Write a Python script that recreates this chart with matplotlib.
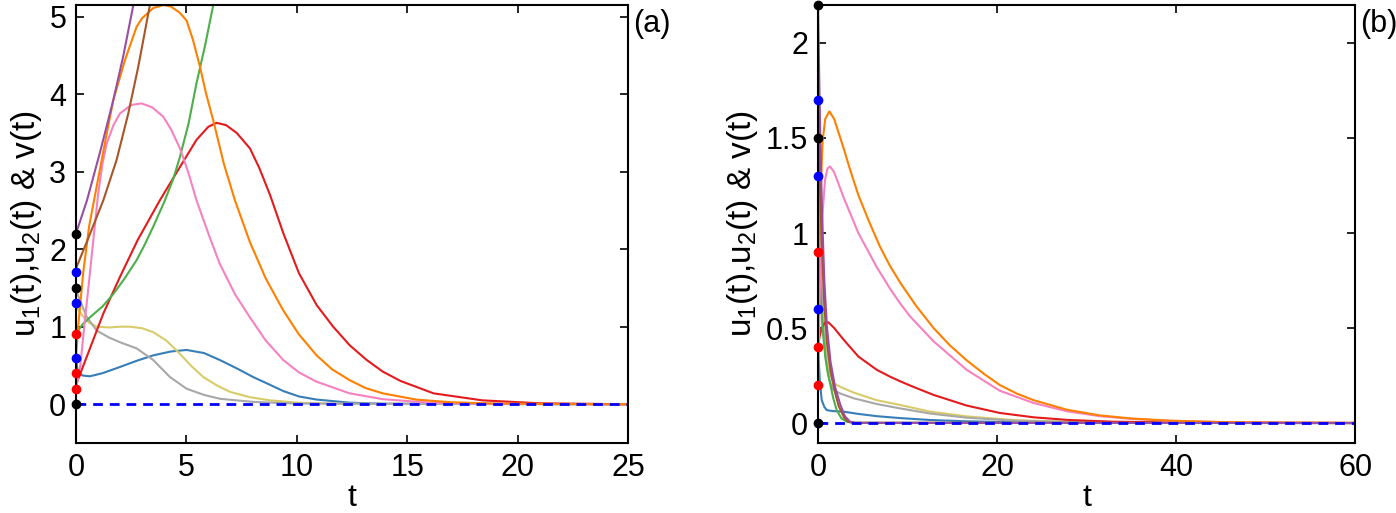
import matplotlib
matplotlib.use('Agg')
import matplotlib.pyplot as plt

plt.rcParams['font.family'] = ['Liberation Sans', 'DejaVu Sans']
plt.rcParams['mathtext.fontset'] = 'custom'
plt.rcParams['mathtext.rm'] = 'Liberation Sans'
plt.rcParams['mathtext.it'] = 'Liberation Sans'

colores = {
    'azul': '#377eb8', 'naranja': '#ff7f00', 'verde': '#4daf4a', 'rojo': '#e41a1c',
    'morado': '#984ea3', 'marron': '#a65628', 'rosa': '#f781bf', 'gris': '#a8a8a8',
    'amarillo': '#d8cb6a',
}

# ---- panel (a) ----
t_morado_a = [0, 0.5, 1.09, 1.69, 2.15, 2.6, 3.0]
y_morado_a = [2.2, 2.63, 3.25, 3.92, 4.5, 5.15, 5.7]
t_marron_a = [0, 0.6, 1.24, 1.84, 2.37, 2.82, 3.35, 3.6]
y_marron_a = [1.75, 2.17, 2.63, 3.15, 3.75, 4.35, 5.15, 5.6]
t_naranja_a = [0, 0.1, 0.33, 0.6, 0.9, 1.3, 1.69, 2.22, 2.75, 3.0, 3.5, 3.95, 4.3, 4.7, 5.01,
               5.3, 5.62, 5.9, 6.22, 6.7, 7.2, 7.88, 8.6, 9.39, 10.1, 10.9, 11.6, 12.4, 13.1,
               13.9, 15.4, 17, 19, 22, 25]
y_naranja_a = [0.6, 1.0, 1.7, 2.3, 2.75, 3.35, 3.92, 4.44, 4.87, 4.98, 5.11, 5.15, 5.13, 5.05, 4.95,
               4.7, 4.35, 4.0, 3.66, 3.1, 2.63, 2.09, 1.62, 1.21, 0.9, 0.63, 0.45, 0.31, 0.21,
               0.14, 0.06, 0.025, 0.008, 0.002, 0.0]
t_rosa_a = [0, 0.2, 0.41, 0.6, 0.78, 1.0, 1.2, 1.39, 1.7, 1.99, 2.5, 2.97, 3.45, 3.95, 4.3, 4.71,
            5.1, 5.46, 6.0, 6.5, 7.2, 7.88, 8.6, 9.39, 10.1, 10.9, 12.4, 13.9, 16, 19, 25]
y_rosa_a = [0.2, 0.5, 1.1, 1.6, 2.1, 2.7, 3.1, 3.36, 3.6, 3.75, 3.86, 3.88, 3.83, 3.71, 3.55, 3.3,
            2.98, 2.63, 2.2, 1.82, 1.42, 1.12, 0.82, 0.57, 0.41, 0.29, 0.14, 0.065, 0.02, 0.005, 0.0]
t_rojo_a = [0, 0.5, 1.24, 1.99, 2.8, 3.8, 4.71, 5.46, 6.0, 6.37, 6.8, 7.28, 7.88, 8.3, 8.79, 9.4,
            10.1, 10.9, 11.65, 12.4, 13.17, 13.9, 14.7, 16.2, 18.4, 21, 25]
y_rojo_a = [0.25, 0.62, 1.17, 1.64, 2.12, 2.63, 3.06, 3.41, 3.58, 3.63, 3.6, 3.5, 3.3, 3.05, 2.7, 2.2,
            1.69, 1.28, 1.0, 0.76, 0.57, 0.42, 0.3, 0.14, 0.05, 0.012, 0.0]
t_verde_a = [0, 0.1, 0.3, 0.63, 1.2, 1.69, 2.2, 2.75, 3.1, 3.5, 4.03, 4.4, 4.71, 5.1, 5.46, 5.85,
             6.22, 6.5]
y_verde_a = [0.9, 0.95, 1.03, 1.12, 1.26, 1.42, 1.62, 1.86, 2.05, 2.29, 2.63, 2.9, 3.19, 3.62, 4.14,
             4.63, 5.15, 5.6]
t_azul_a = [0, 0.08, 0.3, 0.63, 1.2, 1.99, 2.75, 3.5, 4.3, 5.01, 5.8, 6.52, 7.3, 8.03, 8.79,
            9.39, 10.1, 10.9, 12.4, 14, 25]
y_azul_a = [0.6, 0.42, 0.37, 0.36, 0.4, 0.48, 0.56, 0.63, 0.68, 0.70, 0.66, 0.57, 0.46, 0.35, 0.25,
            0.17, 0.1, 0.06, 0.02, 0.006, 0.0]
t_amarillo_a = [0, 0.1, 0.33, 0.6, 0.94, 1.5, 2.0, 2.45, 3.0, 3.5, 4.1, 4.71, 5.2, 5.77, 6.4,
                6.97, 7.88, 8.79, 10, 12, 25]
y_amarillo_a = [1.3, 1.22, 1.13, 1.05, 1.0, 0.99, 1.0, 1.0, 0.98, 0.93, 0.82, 0.65, 0.5, 0.35, 0.24,
                0.16, 0.09, 0.05, 0.02, 0.005, 0.0]
t_gris_a = [0, 0.06, 0.48, 0.94, 1.5, 1.99, 2.75, 3.5, 4.26, 5.01, 5.8, 6.52, 8.03, 10, 25]
y_gris_a = [1.5, 1.43, 1.13, 0.95, 0.86, 0.80, 0.72, 0.57, 0.35, 0.2, 0.12, 0.07, 0.03, 0.008, 0.0]

# ---- panel (b) ----
t_naranja_b = [0, 0.2, 0.5, 0.8, 1.26, 1.8, 2.83, 3.6, 4.5, 5.7, 6.9, 8, 9.16, 10.9, 12.9, 14.7,
               16.6, 18.5, 20.3, 22.2, 24.1, 27.8, 31.5, 35, 39, 45, 52, 60]
y_naranja_b = [0.6, 1.1, 1.48, 1.6, 1.64, 1.6, 1.45, 1.33, 1.2, 1.06, 0.93, 0.83, 0.74, 0.62, 0.5, 0.41,
               0.33, 0.26, 0.2, 0.155, 0.12, 0.07, 0.04, 0.024, 0.013, 0.005, 0.002, 0.001]
t_rosa_b = [0, 0.2, 0.5, 0.78, 1.05, 1.34, 1.8, 2.83, 4.5, 6.56, 8, 9.16, 10.3, 12.9, 16.6, 20.3,
            24.1, 27.8, 31.5, 35.2, 40, 48, 60]
y_rosa_b = [0.2, 0.7, 1.1, 1.28, 1.34, 1.35, 1.32, 1.19, 1.0, 0.82, 0.71, 0.63, 0.56, 0.43, 0.28, 0.17,
            0.105, 0.062, 0.036, 0.021, 0.01, 0.003, 0.0005]
t_rojo_b = [0, 0.15, 0.4, 0.8, 1.15, 1.8, 2.83, 4.5, 6.56, 8, 9.16, 10.3, 12.9, 16.6, 20.3, 24.1,
            28, 33, 40, 50, 60]
y_rojo_b = [0.4, 0.45, 0.5, 0.53, 0.53, 0.5, 0.44, 0.35, 0.28, 0.245, 0.22, 0.197, 0.148, 0.092, 0.053,
            0.03, 0.016, 0.007, 0.003, 0.001, 0.0]
t_amarillo_b = [0, 0.2, 0.5, 0.9, 1.3, 1.71, 2.5, 4, 6.56, 9.16, 12.5, 16.6, 22, 30, 40, 60]
y_amarillo_b = [1.3, 0.95, 0.6, 0.38, 0.27, 0.21, 0.19, 0.16, 0.12, 0.095, 0.06, 0.035, 0.015, 0.004,
                0.001, 0.0]
t_gris_b = [0, 0.2, 0.5, 0.9, 1.3, 1.71, 2.5, 4, 6.56, 9.16, 12.5, 16.6, 22, 30, 40, 60]
y_gris_b = [1.5, 1.0, 0.55, 0.32, 0.22, 0.174, 0.155, 0.13, 0.10, 0.077, 0.05, 0.028, 0.012, 0.003,
            0.001, 0.0]
t_azul_b = [0, 0.2, 0.41, 0.7, 0.97, 1.6, 2.83, 4.5, 6.56, 9.16, 12.5, 16.6, 22, 30, 60]
y_azul_b = [0.4, 0.22, 0.12, 0.085, 0.068, 0.063, 0.06, 0.048, 0.036, 0.026, 0.016, 0.009, 0.004,
            0.001, 0.0]
t_verde_b = [0, 0.2, 0.5, 0.8, 1.1, 1.34, 1.7, 2.08, 2.6, 3.2, 4, 60]
y_verde_b = [0.9, 0.75, 0.5, 0.35, 0.26, 0.21, 0.13, 0.068, 0.025, 0.007, 0.001, 0.0]
t_marron_b = [0, 0.1, 0.25, 0.45, 0.7, 1.0, 1.4, 1.9, 2.3, 2.9, 3.4, 4, 60]
y_marron_b = [1.75, 1.5, 1.2, 0.9, 0.62, 0.42, 0.27, 0.16, 0.09, 0.03, 0.006, 0.001, 0.0]
t_morado_b = [0, 0.1, 0.25, 0.45, 0.7, 1.0, 1.4, 1.9, 2.46, 3.0, 3.58, 4.2, 60]
y_morado_b = [2.2, 1.9, 1.5, 1.1, 0.75, 0.5, 0.32, 0.19, 0.1, 0.035, 0.007, 0.001, 0.0]

# condiciones iniciales (puntos en t = 0)
y_iniciales = [2.2, 1.7, 1.5, 1.3, 0.9, 0.6, 0.4, 0.2, 0.0]
c_iniciales = ['k', 'b', 'k', 'b', 'r', 'b', 'r', 'r', 'k']

curvas_a = [
    (t_azul_a, y_azul_a, 'azul'), (t_amarillo_a, y_amarillo_a, 'amarillo'),
    (t_gris_a, y_gris_a, 'gris'), (t_rojo_a, y_rojo_a, 'rojo'),
    (t_verde_a, y_verde_a, 'verde'), (t_rosa_a, y_rosa_a, 'rosa'),
    (t_naranja_a, y_naranja_a, 'naranja'), (t_marron_a, y_marron_a, 'marron'),
    (t_morado_a, y_morado_a, 'morado'),
]
curvas_b = [
    (t_azul_b, y_azul_b, 'azul'), (t_amarillo_b, y_amarillo_b, 'amarillo'),
    (t_gris_b, y_gris_b, 'gris'), (t_rojo_b, y_rojo_b, 'rojo'),
    (t_verde_b, y_verde_b, 'verde'), (t_rosa_b, y_rosa_b, 'rosa'),
    (t_naranja_b, y_naranja_b, 'naranja'), (t_marron_b, y_marron_b, 'marron'),
    (t_morado_b, y_morado_b, 'morado'),
]

fig = plt.figure(figsize=(13.96, 5.13), dpi=100)
ax1 = fig.add_axes([0.0544, 0.1365, 0.3954, 0.8538])
ax2 = fig.add_axes([0.586, 0.1365, 0.3847, 0.8538])


def dibujar(ax, curvas, tmax, ylim, xticks, yticks, etiqueta):
    for t, y, c in curvas:
        ax.plot(t, y, color=colores[c], lw=1.5)
    ax.plot([0, tmax], [0, 0], '--', color='b', lw=2, dashes=(3.5, 2.5))
    for yi, ci in zip(y_iniciales, c_iniciales):
        ax.plot(0, yi, 'o', color=ci, ms=6, clip_on=False, zorder=5)
    ax.set_xlim(0, tmax)
    ax.set_ylim(*ylim)
    ax.set_xticks(xticks)
    ax.set_yticks(yticks)
    ax.tick_params(direction='in', top=True, right=True, length=6, width=1.2,
                   labelsize=22, pad=7)
    for s in ax.spines.values():
        s.set_linewidth(1.5)
    ax.set_xlabel('t', fontsize=23, labelpad=0)
    ax.set_ylabel('u$_1$(t),u$_2$(t) & v(t)', fontsize=24, labelpad=4)
    ax.text(1.01, 0.99, etiqueta, transform=ax.transAxes, fontsize=22, va='top', ha='left')


dibujar(ax1, curvas_a, 25, (-0.5, 5.15), [0, 5, 10, 15, 20, 25], [0, 1, 2, 3, 4, 5], '(a)')
dibujar(ax2, curvas_b, 60, (-0.105, 2.2), [0, 20, 40, 60], [0, 0.5, 1, 1.5, 2], '(b)')
ax2.set_yticklabels(['0', '0.5', '1', '1.5', '2'])

fig.savefig('out.png', dpi=100)
